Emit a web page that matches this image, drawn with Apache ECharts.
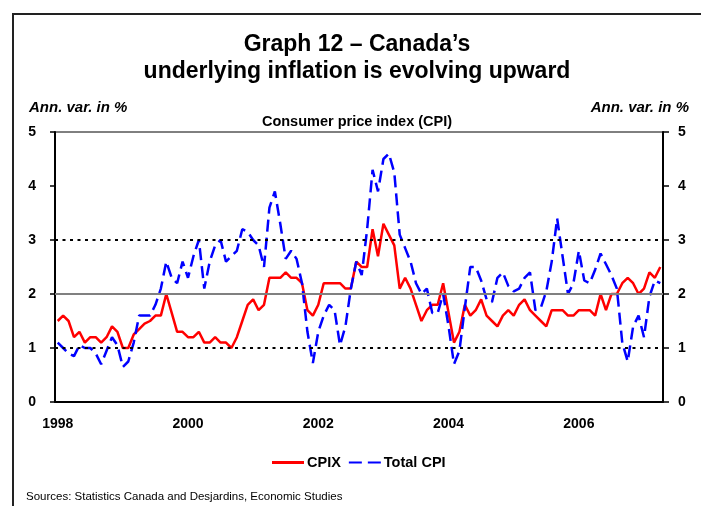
<!DOCTYPE html>
<html>
<head>
<meta charset="utf-8">
<script src="https://cdn.jsdelivr.net/npm/echarts@6/dist/echarts.min.js"></script>
<style>
  html, body { margin: 0; padding: 0; background: #fff; }
  #c { width: 701px; height: 506px; }
</style>
</head>
<body>
<div id="c"></div>
<script>
// ---- Data ----
const months = [];
for (let y = 1998; y <= 2007; y++) {
  for (let m = 1; m <= 12; m++) {
    if (months.length < 112) months.push(y + '-' + (m < 10 ? '0' + m : m));
  }
}
const yearLabels = ['1998', '2000', '2002', '2004', '2006'];
const yTicks = [0, 1, 2, 3, 4, 5];
const refDotted = [1, 3];
const refSolid = [2];

const cpix = [
  1.5, 1.6, 1.5, 1.2, 1.3, 1.1, 1.2, 1.2, 1.1, 1.2, 1.4, 1.3,
  1.0, 1.0, 1.25, 1.35, 1.45, 1.5, 1.6, 1.6, 2.0, 1.65, 1.3, 1.3,
  1.2, 1.2, 1.3, 1.1, 1.1, 1.2, 1.1, 1.1, 1.0, 1.2, 1.5, 1.8,
  1.9, 1.7, 1.8, 2.3, 2.3, 2.3, 2.4, 2.3, 2.3, 2.2, 1.7, 1.6,
  1.8, 2.2, 2.2, 2.2, 2.2, 2.1, 2.1, 2.6, 2.5, 2.5, 3.2, 2.7,
  3.3, 3.1, 2.9, 2.1, 2.3, 2.1, 1.8, 1.5, 1.7, 1.8, 1.8, 2.2,
  1.65, 1.1, 1.3, 1.8, 1.6, 1.7, 1.9, 1.6, 1.5, 1.4, 1.6, 1.7,
  1.6, 1.8, 1.9, 1.7, 1.6, 1.5, 1.4, 1.7, 1.7, 1.7, 1.6, 1.6,
  1.7, 1.7, 1.7, 1.6, 2.0, 1.7, 2.0, 2.0, 2.2, 2.3, 2.2, 2.0,
  2.1, 2.4, 2.3, 2.5
];

const totalCpi = [
  1.1, 1.0, 0.9, 0.85, 1.05, 1.0, 1.0, 0.9, 0.7, 0.95, 1.2, 1.05,
  0.65, 0.75, 1.1, 1.6, 1.6, 1.6, 1.8, 2.1, 2.6, 2.3, 2.2, 2.6,
  2.3, 2.7, 3.0, 2.1, 2.6, 2.9, 3.0, 2.6, 2.7, 2.8, 3.2, 3.15,
  3.0, 2.9, 2.5, 3.6, 3.9, 3.3, 2.65, 2.8, 2.65, 2.2, 1.3, 0.72,
  1.3, 1.6, 1.8, 1.7, 1.05, 1.4, 2.1, 2.6, 2.35, 3.2, 4.3, 3.9,
  4.5, 4.6, 4.25, 3.1, 2.85, 2.6, 2.2, 2.0, 2.1, 1.65, 1.65, 2.0,
  1.4, 0.7, 0.95, 1.75, 2.5, 2.5, 2.25, 1.9, 1.85, 2.3, 2.4, 2.15,
  2.05, 2.1, 2.3, 2.4, 1.7, 1.75, 2.05, 2.6, 3.4, 2.7, 2.0, 2.2,
  2.8, 2.25, 2.2, 2.45, 2.75, 2.55, 2.35, 2.1, 1.1, 0.75, 1.4, 1.6,
  1.2, 1.95, 2.25, 2.2
];

// ---- Chart ----
const FONT = '"Liberation Sans", Arial, sans-serif';
const chart = echarts.init(document.getElementById('c'), null, { renderer: 'canvas' });

function yAxisCfg(pos, margin, tickLen) {
  return {
    type: 'value',
    position: pos,
    min: yTicks[0],
    max: yTicks[yTicks.length - 1],
    interval: 1,
    axisLine: { show: true, lineStyle: { color: '#000', width: 2 } },
    axisTick: { show: true, length: tickLen, lineStyle: { color: '#000', width: 1.5 } },
    axisLabel: { color: '#000', fontSize: 14, fontWeight: 'bold', fontFamily: FONT, margin: margin },
    splitLine: { show: false }
  };
}

const markData = [];
refDotted.forEach(v => markData.push({ yAxis: v, lineStyle: { type: [3, 4.5], color: '#000', width: 2 } }));
refSolid.forEach(v => markData.push({ yAxis: v, lineStyle: { type: 'solid', color: '#808080', width: 2 } }));

const option = {
  animation: false,
  backgroundColor: '#fff',
  grid: {
    left: 55, right: 38, top: 132, bottom: 104,
    show: true, borderColor: '#000', borderWidth: 1,
    containLabel: false, outerBoundsMode: 'none'
  },
  legend: {
    data: [
      { name: 'CPIX', icon: 'rect' },
      { name: 'Total CPI', icon: 'path://M0,0H13V2H0ZM19,0H32V2H19Z' }
    ],
    left: 272, top: 455, padding: 0,
    itemWidth: 32, itemHeight: 3, itemGap: 8,
    textStyle: { color: '#000', fontSize: 14.5, fontWeight: 'bold', fontFamily: FONT, padding: [0, 0, 0, -2] }
  },
  xAxis: {
    type: 'category',
    data: months,
    boundaryGap: true,
    axisLine: { show: true, lineStyle: { color: '#000', width: 2 } },
    axisTick: { show: false },
    axisLabel: {
      interval: function (i) { return i % 24 === 0; },
      formatter: function (v, i) { return yearLabels[Math.round(i / 24)] || ''; },
      color: '#000', fontSize: 14, fontWeight: 'bold', fontFamily: FONT, margin: 15
    },
    splitLine: { show: false }
  },
  yAxis: [yAxisCfg('left', 19, 5), yAxisCfg('right', 15, 6)],
  series: [
    {
      name: 'ref', type: 'line', data: [], z: 1, silent: true,
      markLine: { silent: true, symbol: ['none', 'none'], label: { show: false }, animation: false, data: markData }
    },
    {
      name: 'CPIX', type: 'line', data: cpix, symbol: 'none', z: 3,
      lineStyle: { color: '#ff0000', width: 2.5 },
      itemStyle: { color: '#ff0000' }
    },
    {
      name: 'Total CPI', type: 'line', data: totalCpi, symbol: 'none', z: 4,
      lineStyle: { color: '#0000ff', width: 2.5, type: [12, 6] },
      itemStyle: { color: '#0000ff' }
    }
  ],
  graphic: [
    { type: 'rect', shape: { x: 13, y: 14, width: 760, height: 560 }, style: { fill: 'none', stroke: '#222', lineWidth: 2 }, silent: true },
    { type: 'text', x: 357, y: 45, style: { text: 'Graph 12 – Canada’s', font: 'bold 23px ' + FONT, fill: '#000', textAlign: 'center', textVerticalAlign: 'middle' } },
    { type: 'text', x: 357, y: 72, style: { text: 'underlying inflation is evolving upward', font: 'bold 23px ' + FONT, fill: '#000', textAlign: 'center', textVerticalAlign: 'middle' } },
    { type: 'text', x: 29, y: 108, style: { text: 'Ann. var. in %', font: 'italic bold 15px ' + FONT, fill: '#000', textAlign: 'left', textVerticalAlign: 'middle' } },
    { type: 'text', x: 689, y: 108, style: { text: 'Ann. var. in %', font: 'italic bold 15px ' + FONT, fill: '#000', textAlign: 'right', textVerticalAlign: 'middle' } },
    { type: 'text', x: 357, y: 122, style: { text: 'Consumer price index (CPI)', font: 'bold 14.5px ' + FONT, fill: '#000', textAlign: 'center', textVerticalAlign: 'middle' } },
    { type: 'text', x: 26, y: 497, style: { text: 'Sources: Statistics Canada and Desjardins, Economic Studies', font: '11.5px ' + FONT, fill: '#000', textAlign: 'left', textVerticalAlign: 'middle' } }
  ]
};
chart.setOption(option);
</script>
</body>
</html>
